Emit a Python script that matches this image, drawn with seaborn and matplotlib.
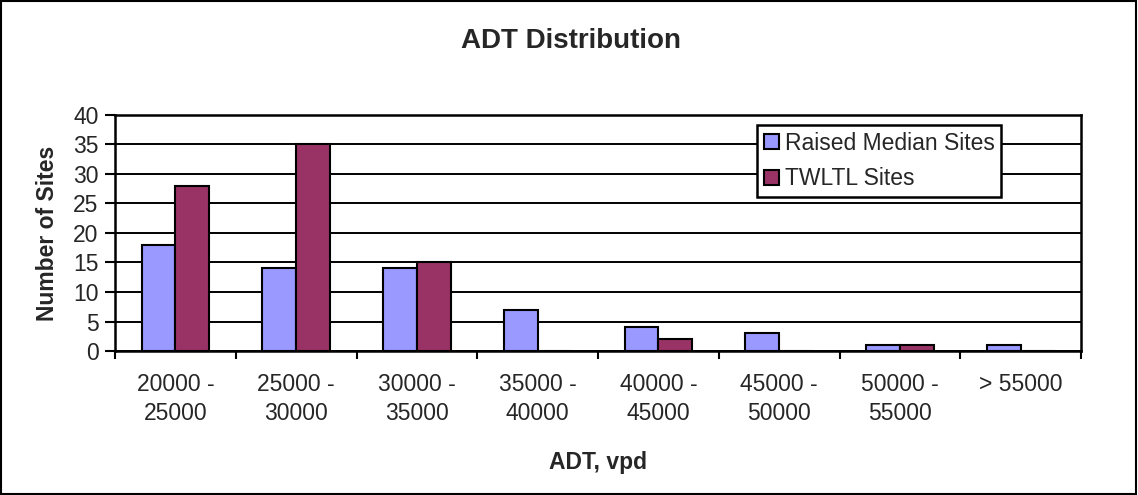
import pandas as pd
import matplotlib
matplotlib.use('Agg')
import matplotlib.pyplot as plt
import seaborn as sns
from matplotlib.patches import Rectangle
from matplotlib.ticker import FixedLocator

# ADT bins and site counts
adt_bins = ['20000 -\n25000', '25000 -\n30000', '30000 -\n35000', '35000 -\n40000',
            '40000 -\n45000', '45000 -\n50000', '50000 -\n55000', '> 55000']
raised_median = [18, 14, 14, 7, 4, 3, 1, 1]
twltl = [28, 35, 15, 0, 2, 0, 1, 0]
series_names = ['Raised Median Sites', 'TWLTL Sites']
y_ticks = [0, 5, 10, 15, 20, 25, 30, 35, 40]


def build_frame():
    rows = []
    for name, vals in zip(series_names, [raised_median, twltl]):
        for b, v in zip(adt_bins, vals):
            rows.append({'bin': b, 'sites': v, 'series': name})
    return pd.DataFrame(rows)


def chart_adt(df, path='out.png'):
    sns.set_theme(style='white')
    plt.rcParams['font.family'] = ['Liberation Sans', 'DejaVu Sans']
    fs = 16.5

    fig = plt.figure(figsize=(11.38, 4.95), dpi=100)
    ax = fig.add_axes([0.1011, 0.2909, 0.8489, 0.4768])

    sns.barplot(data=df, x='bin', y='sites', hue='series', order=adt_bins,
                hue_order=series_names, palette=['#9999FF', '#993366'],
                width=0.56, gap=0, edgecolor='black', linewidth=1.5,
                saturation=1, ax=ax)

    ax.set_ylim(0, 40)
    ax.set_xlim(-0.5, len(adt_bins) - 0.5)
    ax.set_yticks(y_ticks)
    ax.yaxis.grid(True, color='black', linewidth=1.4)
    ax.set_axisbelow(True)
    for s in ax.spines.values():
        s.set_visible(True)
        s.set_color('black')
        s.set_linewidth(1.8)

    # tick marks between categories, labels centered
    ax.xaxis.set_minor_locator(FixedLocator([i - 0.5 for i in range(len(adt_bins) + 1)]))
    ax.tick_params(axis='x', which='major', length=0, pad=16, labelsize=fs)
    ax.tick_params(axis='x', which='minor', length=6, width=1.5, color='black', bottom=True)
    ax.tick_params(axis='y', which='major', length=7, width=1.5, color='black', left=True,
                   labelsize=fs, pad=5)
    for lbl in ax.get_xticklabels():
        lbl.set_linespacing(1.3)

    ax.set_xlabel('ADT, vpd', fontsize=fs, fontweight='bold', labelpad=19)
    ax.set_ylabel('Number of Sites', fontsize=fs, fontweight='bold', labelpad=10)
    fig.text(0.502, 0.903, 'ADT Distribution', ha='center', va='baseline',
             fontsize=20, fontweight='bold')

    leg = ax.legend(loc='upper left', bbox_to_anchor=(0.6646, 0.9576), borderaxespad=0,
                    fontsize=fs, frameon=True, fancybox=False, framealpha=1,
                    edgecolor='black', handlelength=0.65, handleheight=0.65,
                    handletextpad=0.25, labelspacing=0.55, borderpad=0.3)
    leg.get_frame().set_linewidth(1.8)

    fig.patches.append(Rectangle((0.001, 0.002), 0.997, 0.995, transform=fig.transFigure,
                                 fill=False, edgecolor='black', linewidth=1.5))
    fig.savefig(path, dpi=100)


if __name__ == '__main__':
    chart_adt(build_frame())
